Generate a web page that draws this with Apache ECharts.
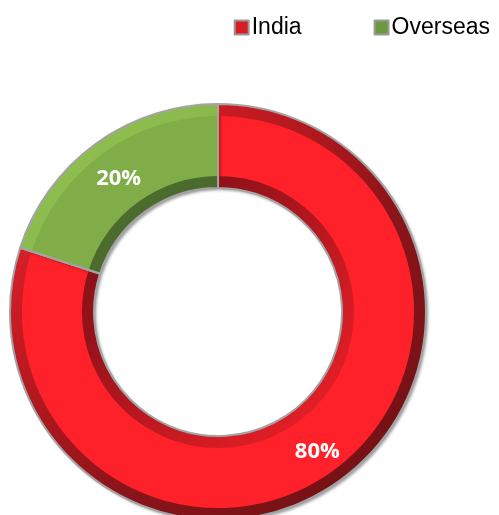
<!DOCTYPE html>
<html lang="en">
<head>
    <meta charset="UTF-8">
    <title>India vs Overseas</title>
    <style>
        html, body {margin: 0; padding: 0; background: #ffffff;}
        #main {width: 499px; height: 515px;}
    </style>
</head>
<body>
<div id="main"></div>
<script src="https://cdn.jsdelivr.net/npm/echarts@6/dist/echarts.min.js"></script>
<script type="text/javascript">
// data
var regions = ['India', 'Overseas'];
var shares = [80, 20];
var labels = ['80%', '20%'];

var cx = 218, cy = 312, rIn = 124, rOut = 208, bev = 12;

// linear light from top-left, stops given as [offset, colour]
function lit(r, stops) {
    return {
        type: 'linear', global: true,
        x: cx - r, y: cy - r, x2: cx + r, y2: cy + r,
        colorStops: stops.map(function (s) { return {offset: s[0], color: s[1]}; })
    };
}

var faceCol = ['#fe2129', '#80ad47'];
var outerCol = [
    lit(rOut, [[0, '#f0343a'], [0.25, '#cc1b23'], [0.6, '#8a1419'], [1, '#6a1014']]),
    lit(rOut, [[0, '#92c352'], [0.3, '#88b84c'], [1, '#6d9a3c']])
];
var innerCol = [
    lit(rIn + bev, [[0, '#7e1016'], [0.3, '#941219'], [0.7, '#d01b23'], [1, '#f02129']]),
    lit(rIn + bev, [[0, '#4f7030'], [0.5, '#46642a'], [1, '#46642a']])
];
var flat = ['#d81c24', '#6d9a3c'];

function ringSeries(radius, colors, extra) {
    var s = {
        type: 'pie',
        center: [cx, cy],
        radius: radius,
        startAngle: 90,
        clockwise: true,
        label: {show: false},
        labelLine: {show: false},
        emphasis: {disabled: true},
        data: regions.map(function (n, i) {
            return {name: n, value: shares[i], itemStyle: {color: colors[i]}};
        })
    };
    for (var k in extra) s[k] = extra[k];
    return s;
}

var chart = echarts.init(document.getElementById('main'));
chart.setOption({
    animation: false,
    legend: {
        right: 4,
        top: 11,
        itemWidth: 14,
        itemHeight: 14,
        itemGap: 72,
        icon: 'rect',
        textStyle: {fontFamily: 'Liberation Sans', fontSize: 23, color: '#000', padding: [0, 0, 0, -2]},
        data: regions.map(function (n, i) {
            return {name: n, itemStyle: {color: flat[i], borderColor: '#9a9a9a', borderWidth: 2}};
        })
    },
    series: [
        ringSeries([rIn, rOut], faceCol, {
            itemStyle: {
                shadowColor: 'rgba(0,0,0,0.4)',
                shadowBlur: 3,
                shadowOffsetX: 2,
                shadowOffsetY: 2
            }
        }),
        ringSeries([rOut - bev, rOut], outerCol, {}),
        ringSeries([rIn, rIn + bev], innerCol, {}),
        // outline + labels on top
        ringSeries([rIn, rOut], ['rgba(0,0,0,0)', 'rgba(0,0,0,0)'], {
            itemStyle: {borderColor: '#a3a3a3', borderWidth: 2},
            label: {
                show: true,
                position: 'inside',
                color: '#fff',
                fontFamily: 'Open Sans',
                fontWeight: 'bold',
                fontSize: 22,
                offset: [0, 3],
                formatter: function (p) { return labels[p.dataIndex]; }
            }
        })
    ]
});
</script>
</body>
</html>
